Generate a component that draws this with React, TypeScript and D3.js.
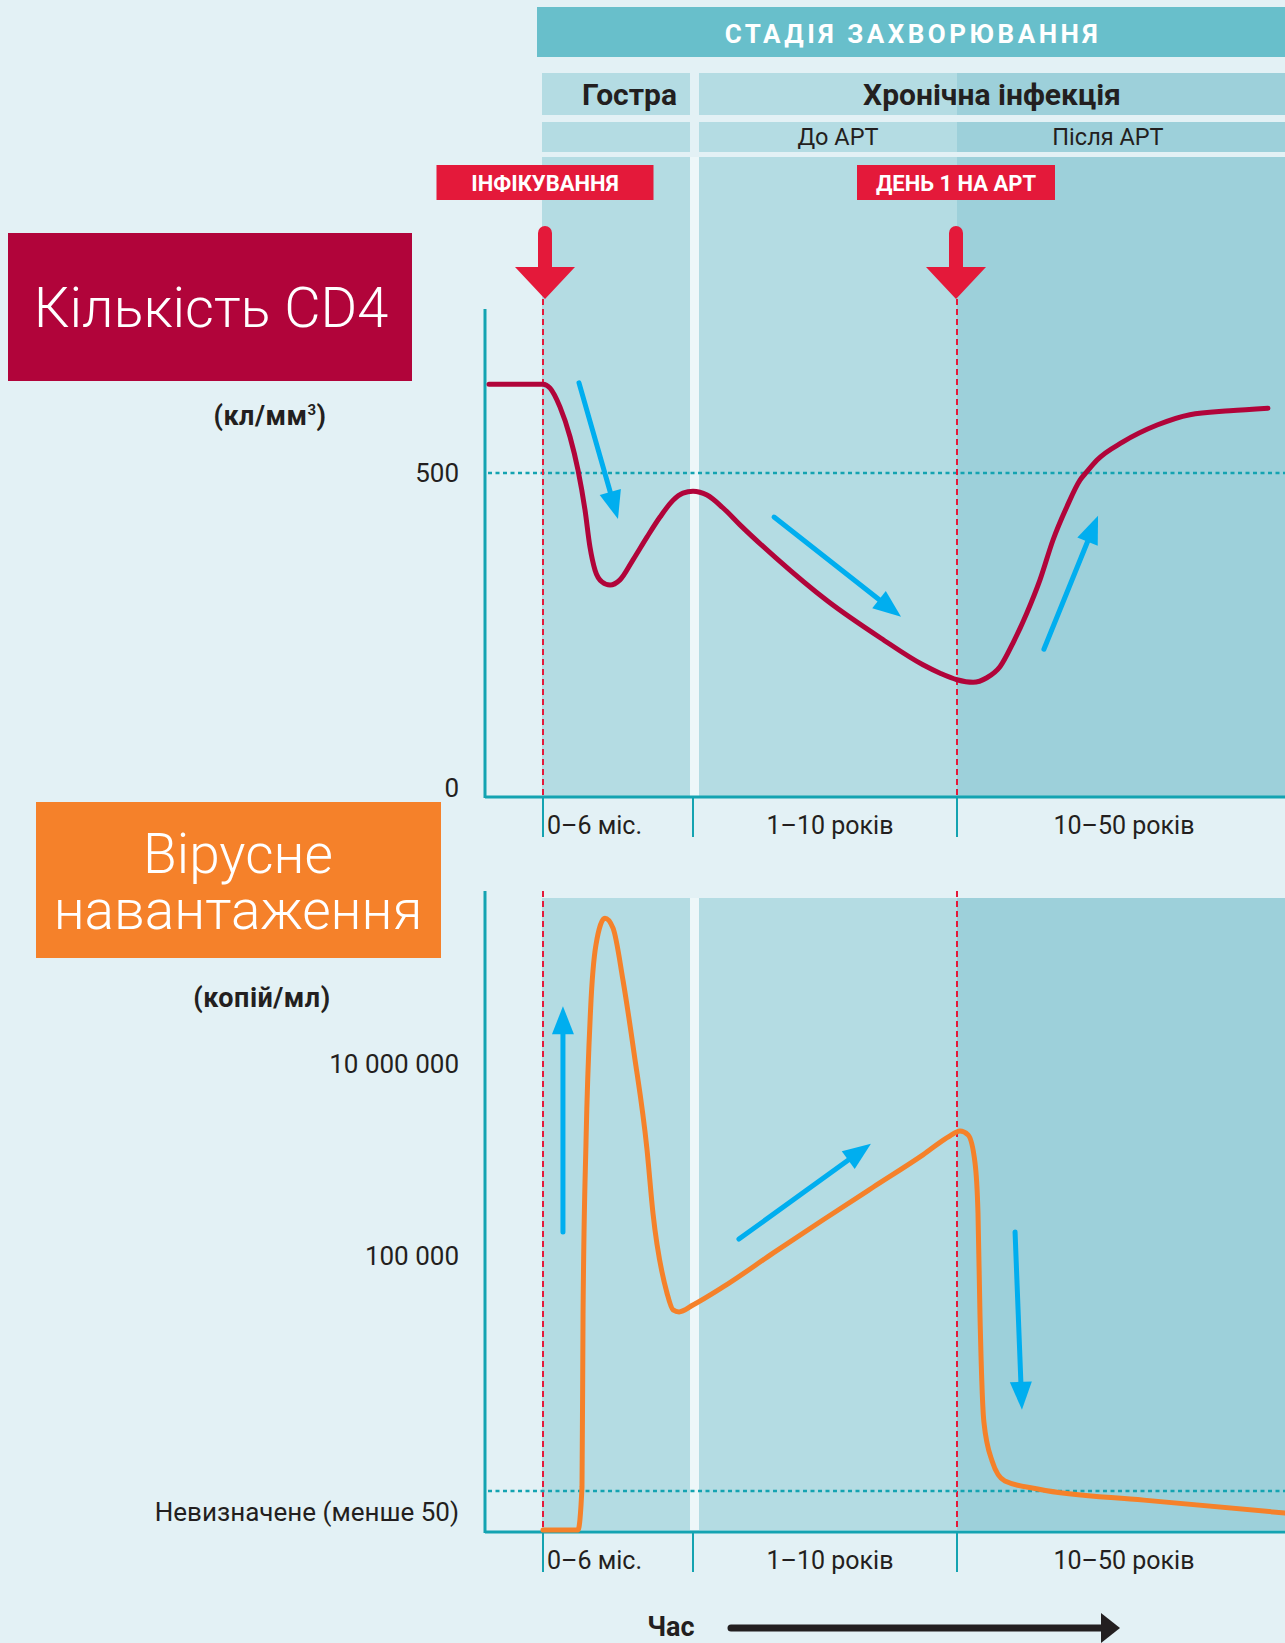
import React from 'react';
import * as d3 from 'd3';

// ---------- data ----------
const stageHeader = 'СТАДІЯ ЗАХВОРЮВАННЯ';
const acuteLabel = 'Гостра';
const chronicLabel = 'Хронічна інфекція';
const subPhaseLabels = ['До АРТ', 'Після АРТ'];
const eventLabels = ['ІНФІКУВАННЯ', 'ДЕНЬ 1 НА АРТ'];
const eventT = [0, 2];
const periodLabels = ['0–6 міс.', '1–10 років', '10–50 років'];
const periodT = [0, 1, 2, 3];

const cd4Title = 'Кількість CD4';
const cd4Unit = 'кл/мм';
const cd4Ticks = [0, 500];
const cd4Threshold = 500;
const cd4T = [-0.36, 0, 0.047, 0.113, 0.18, 0.233, 0.28, 0.313, 0.347, 0.393, 0.447, 0.513, 0.6, 0.693, 0.78, 0.867, 0.933, 1.0, 1.053, 1.114, 1.178, 1.314, 1.511, 1.712, 1.871, 1.936, 2.0, 2.049, 2.091, 2.131, 2.171, 2.213, 2.253, 2.293, 2.335, 2.375, 2.396, 2.427, 2.506, 2.61, 2.71, 2.832, 2.948];
const cd4V = [637, 637, 631, 602, 556, 505, 443, 386, 350, 332, 327, 335, 366, 401, 432, 458, 469, 472, 466, 446, 420, 369, 302, 245, 204, 191, 181, 177, 184, 201, 238, 284, 335, 397, 448, 489, 502, 520, 548, 574, 590, 596, 600];

const vlTitle = ['Вірусне', 'навантаження'];
const vlUnit = '(копій/мл)';
const vlTickValues = [1e7, 1e5];
const vlTickLabels = ['10 000 000', '100 000'];
const vlUndetect = 50;
const vlUndetectLabel = 'Невизначене (менше 50)';
const vlT = [0, 0.233, 0.26, 0.267, 0.287, 0.317, 0.353, 0.413, 0.467, 0.533, 0.607, 0.693, 0.733, 0.827, 0.867, 0.907, 1.0, 1.114, 1.303, 1.492, 1.682, 1.871, 1.973, 2.009, 2.034, 2.055, 2.064, 2.07, 2.082, 2.107, 2.146, 2.25, 2.57, 3.0];
const vlV = [1, 1, 57, 15300, 1.6e6, 3.65e7, 1.74e8, 3.3e8, 2.6e8, 7.5e7, 1.3e7, 1.3e6, 2.8e5, 30000, 17500, 16400, 20500, 36700, 1.07e5, 2.37e5, 5.2e5, 1.13e6, 1.78e6, 2.0e6, 1.82e6, 9.3e5, 2.8e5, 15300, 466, 132, 69, 53, 20, 5.5];

// trend arrows: [t0, v0, t1, v1]
const cd4Arrows = [
  [0.24, 639, 0.5, 429],
  [1.307, 432, 1.788, 278],
  [2.265, 228, 2.43, 434],
];
const vlArrows = [
  [0.133, 1.78e5, 0.133, 4.0e7],
  [1.174, 1.5e5, 1.674, 1.48e6],
  [2.177, 1.78e5, 2.198, 690],
];
const timeLabel = 'Час';

// ---------- styles ----------
const W = 1285;
const H = 1643;
const C = {
  bg: '#e3f1f5',
  banner: '#68bfcb',
  light: '#b4dce3',
  dark: '#9dd0da',
  gap: '#edf7f9',
  red: '#e4193a',
  crimson: '#b1043a',
  orange: '#f5812a',
  cyan: '#00aeef',
  teal: '#14a3b1',
  text: '#231f20',
};
const FONT = "Roboto, 'Liberation Sans', Arial, sans-serif";

function headPoints(x1: number, y1: number, x2: number, y2: number, len: number, hw: number) {
  const dx = x2 - x1, dy = y2 - y1;
  const L = Math.hypot(dx, dy);
  const ux = dx / L, uy = dy / L;
  const bx = x2 - ux * len, by = y2 - uy * len;
  const px = -uy, py = ux;
  return {
    pts: `${x2},${y2} ${bx + px * hw},${by + py * hw} ${bx - px * hw},${by - py * hw}`,
    bx: x2 - ux * (len - 4),
    by: y2 - uy * (len - 4),
  };
}

function BlueArrow({ x1, y1, x2, y2 }: { x1: number; y1: number; x2: number; y2: number }) {
  const h = headPoints(x1, y1, x2, y2, 28, 11);
  return (
    <g>
      <line x1={x1} y1={y1} x2={h.bx} y2={h.by} stroke={C.cyan} strokeWidth={5} strokeLinecap="round" />
      <polygon points={h.pts} fill={C.cyan} />
    </g>
  );
}

export default function App() {
  const x = d3.scaleLinear().domain(periodT).range([543, 693, 957, 1285]);

  // CD4 panel
  const cd4Top = 309, cd4Bottom = 797;
  const yC = d3.scaleLinear().domain([0, 500]).range([797, 473]);
  // Viral load panel
  const vlTop = 891, vlBottom = 1532;
  const yV = d3.scaleLog().domain([1, vlUndetect, 1e5, 1e7]).range([1530, 1491, 1256, 1064]);

  const axisX = 485;

  const cd4Line = d3.line<number>()
    .x((_, i) => x(cd4T[i]))
    .y((v) => yC(v))
    .curve(d3.curveMonotoneX)(cd4V) as string;
  const vlLine = d3.line<number>()
    .x((_, i) => x(vlT[i]))
    .y((v) => yV(v))
    .curve(d3.curveMonotoneX)(vlV) as string;

  const cols = [
    { x0: x(0) - 1, x1: x(1) - 3, fill: C.light },
    { x0: x(1) + 6, x1: x(2), fill: C.light },
    { x0: x(2), x1: W, fill: C.dark },
  ];
  const rows = [
    [73, 115],
    [122, 152],
    [157, cd4Bottom],
  ];
  const evOffset = [2, -1];
  const evBoxW = [217, 198];

  return (
    <svg width={W} height={H} style={{ position: 'absolute', left: 0, top: 0, display: 'block' }} fontFamily={FONT}>
      <rect x={0} y={0} width={W} height={H} fill={C.bg} />

      {/* header banner */}
      <rect x={537} y={7} width={W - 537} height={50} fill={C.banner} />
      <text x={913} y={43} textAnchor="middle" fill="#fff" fontSize={26} fontWeight={700} letterSpacing={3.5}>{stageHeader}</text>

      {/* columns: rows & CD4 panel */}
      <rect x={x(1) - 3} y={157} width={9} height={cd4Bottom - 157} fill={C.gap} />
      {rows.map((r, ri) =>
        cols.map((c, ci) => (
          <rect key={`r${ri}c${ci}`} x={c.x0} y={r[0]} width={c.x1 - c.x0} height={r[1] - r[0]} fill={c.fill} />
        ))
      )}
      {/* VL panel bands */}
      <rect x={x(1) - 3} y={898} width={9} height={1530 - 898} fill={C.gap} />
      {cols.map((c, ci) => (
        <rect key={`v${ci}`} x={c.x0} y={898} width={c.x1 - c.x0} height={1530 - 898} fill={c.fill} />
      ))}

      {/* phase labels */}
      <text x={677} y={105} textAnchor="end" fontSize={30} fontWeight={700} fill={C.text}>{acuteLabel}</text>
      <text x={(x(1) + 6 + W) / 2} y={105} textAnchor="middle" fontSize={30} fontWeight={700} fill={C.text}>{chronicLabel}</text>
      <text x={838} y={145} textAnchor="middle" fontSize={23.5} fill={C.text}>{subPhaseLabels[0]}</text>
      <text x={1108} y={145} textAnchor="middle" fontSize={23.5} fill={C.text}>{subPhaseLabels[1]}</text>

      {/* event labels */}
      {eventT.map((t, i) => {
        const cx = x(t) + evOffset[i];
        const bw = evBoxW[i];
        return (
          <g key={`ev${i}`}>
            <rect x={cx - bw / 2} y={165} width={bw} height={35} fill={C.red} />
            <text x={cx} y={191} textAnchor="middle" fill="#fff" fontSize={22} fontWeight={700}>{eventLabels[i]}</text>
            <line x1={cx} y1={233} x2={cx} y2={272} stroke={C.red} strokeWidth={14} strokeLinecap="round" />
            <polygon points={`${cx - 30},267 ${cx + 30},267 ${cx},299`} fill={C.red} />
          </g>
        );
      })}

      {/* CD4 title */}
      <rect x={8} y={233} width={404} height={148} fill={C.crimson} />
      <text x={211} y={327} textAnchor="middle" fill="#fff" fontSize={56} fontWeight={300}>{cd4Title}</text>
      <text x={270} y={425} textAnchor="middle" fill={C.text} fontSize={27} fontWeight={700} letterSpacing={0.5}>
        ({cd4Unit}<tspan dy={-10} fontSize={15}>3</tspan><tspan dy={10}>)</tspan>
      </text>

      {/* CD4 threshold line */}
      <line x1={axisX + 3} x2={W} y1={yC(cd4Threshold)} y2={yC(cd4Threshold)} stroke={C.teal} strokeWidth={2.5} strokeDasharray="4,3.5" />

      {/* event dashed lines */}
      {eventT.map((t, i) => (
        <g key={`dl${i}`}>
          <line x1={x(t)} x2={x(t)} y1={299} y2={cd4Bottom} stroke={C.red} strokeWidth={2} strokeDasharray="6,4" />
          <line x1={x(t)} x2={x(t)} y1={vlTop} y2={vlBottom} stroke={C.red} strokeWidth={2} strokeDasharray="6,4" />
        </g>
      ))}

      {/* CD4 axes */}
      <line x1={axisX} x2={axisX} y1={cd4Top} y2={cd4Bottom + 1} stroke={C.teal} strokeWidth={3} />
      <line x1={axisX} x2={W} y1={cd4Bottom} y2={cd4Bottom} stroke={C.teal} strokeWidth={3} />
      {cd4Ticks.map((v) => (
        <text key={`ct${v}`} x={459} y={Math.min(yC(v) + 9, cd4Bottom)} textAnchor="end" fontSize={26} fill={C.text}>{v}</text>
      ))}

      {/* CD4 line */}
      <path d={cd4Line} fill="none" stroke={C.crimson} strokeWidth={5} strokeLinejoin="round" strokeLinecap="round" />
      {cd4Arrows.map((a, i) => (
        <BlueArrow key={`ca${i}`} x1={x(a[0])} y1={yC(a[1])} x2={x(a[2])} y2={yC(a[3])} />
      ))}

      {/* period ticks (both panels) */}
      {[cd4Bottom, vlBottom].map((by, pi) => (
        <g key={`pt${pi}`}>
          {periodT.slice(0, 3).map((t, i) => (
            <line key={`tk${i}`} x1={x(t)} x2={x(t)} y1={by} y2={by + 40} stroke={C.teal} strokeWidth={2} />
          ))}
          <text x={x(0) + 4} y={by + 37} fontSize={25} fill={C.text}>{periodLabels[0]}</text>
          <text x={830} y={by + 37} textAnchor="middle" fontSize={25} fill={C.text}>{periodLabels[1]}</text>
          <text x={1124} y={by + 37} textAnchor="middle" fontSize={25} fill={C.text}>{periodLabels[2]}</text>
        </g>
      ))}

      {/* VL title */}
      <rect x={36} y={802} width={405} height={156} fill={C.orange} />
      <text x={238} y={873} textAnchor="middle" fill="#fff" fontSize={55} fontWeight={300}>{vlTitle[0]}</text>
      <text x={238} y={929} textAnchor="middle" fill="#fff" fontSize={55} fontWeight={300}>{vlTitle[1]}</text>
      <text x={262} y={1007} textAnchor="middle" fill={C.text} fontSize={27} fontWeight={700} letterSpacing={0.5}>{vlUnit}</text>

      {/* VL undetectable line */}
      <line x1={axisX + 3} x2={W} y1={yV(vlUndetect)} y2={yV(vlUndetect)} stroke={C.teal} strokeWidth={2.5} strokeDasharray="4,3.5" />

      {/* VL axes */}
      <line x1={axisX} x2={axisX} y1={vlTop} y2={vlBottom + 1} stroke={C.teal} strokeWidth={3} />
      <line x1={axisX} x2={W} y1={vlBottom} y2={vlBottom} stroke={C.teal} strokeWidth={3} />
      {vlTickValues.map((v, i) => (
        <text key={`vt${i}`} x={459} y={yV(v) + 9} textAnchor="end" fontSize={26} fill={C.text}>{vlTickLabels[i]}</text>
      ))}
      <text x={459} y={(yV(vlUndetect) + vlBottom) / 2 + 9} textAnchor="end" fontSize={26} fill={C.text}>{vlUndetectLabel}</text>

      {/* VL line */}
      <path d={vlLine} fill="none" stroke={C.orange} strokeWidth={5} strokeLinejoin="round" strokeLinecap="round" />
      {vlArrows.map((a, i) => (
        <BlueArrow key={`va${i}`} x1={x(a[0])} y1={yV(a[1])} x2={x(a[2])} y2={yV(a[3])} />
      ))}

      {/* time arrow */}
      <text x={671} y={1636} textAnchor="middle" fontSize={27} fontWeight={700} fill={C.text}>{timeLabel}</text>
      <line x1={731} x2={1104} y1={1628} y2={1628} stroke={C.text} strokeWidth={7} strokeLinecap="round" />
      <polygon points={`1120,1628 1101,1613 1101,1643`} fill={C.text} />
    </svg>
  );
}
